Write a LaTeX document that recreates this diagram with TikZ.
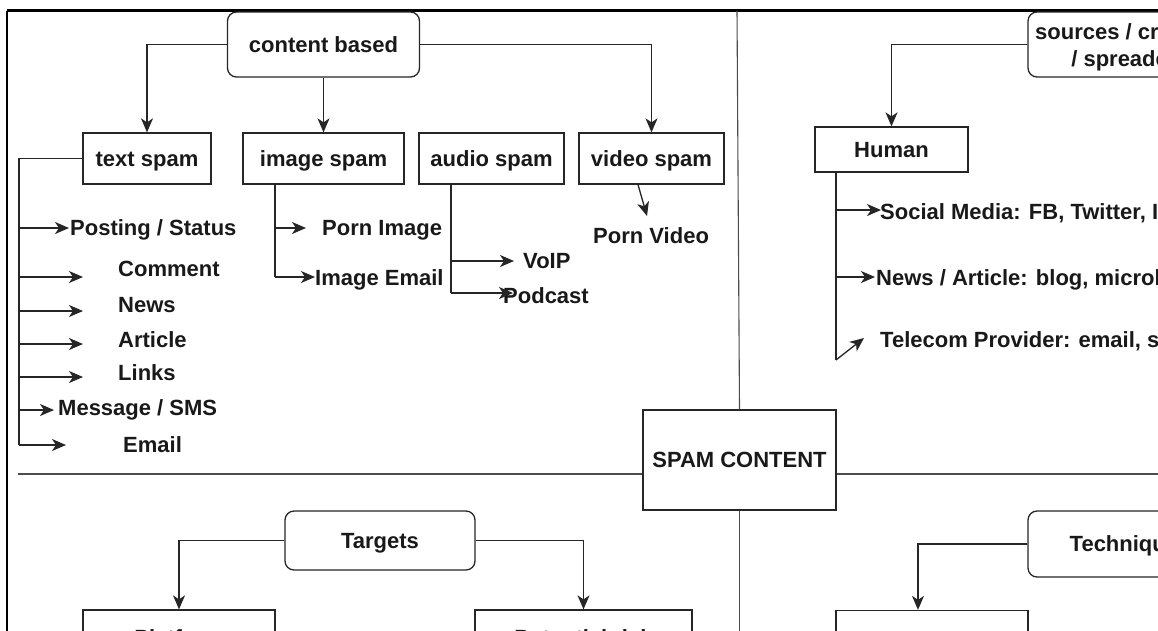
\documentclass[tikz,border=0pt]{standalone}
\usepackage{fontspec}
\setmainfont{Liberation Sans}
\usetikzlibrary{arrows.meta}
\begin{document}
\begin{tikzpicture}[x=1pt,y=-1pt,
  every node/.style={font=\fontsize{22}{26}\selectfont\bfseries, text=black!90},
  ln/.style={draw=black!85, line width=1.3pt},
  arr/.style={ln, -{Stealth[length=14pt,width=12pt,inset=4pt]}},
  divider/.style={draw=black!70, line width=1.1pt},
  boxbase/.style={draw=black!85, line width=1.3pt, inner sep=0pt, align=center},
  box/.style={boxbase, text height=15.5pt, text depth=0pt},
  rbox/.style={box, rounded corners=9pt},
  lbl/.style={inner sep=0pt, anchor=west, text height=16pt, text depth=4pt}]

\useasboundingbox (0,0) rectangle (1158,630);
\clip (0,0) rectangle (1158,630);
\fill[white] (0,0) rectangle (1158,630);

% outer frame
\draw[line width=2.4pt] (7,10.5) -- (1170,10.5);
\draw[line width=2pt] (7,10.5) -- (7,640);

% centre box and quadrant dividers
\node[box, minimum width=193pt, minimum height=100pt] (spam) at (739.5,460) {SPAM CONTENT};
\coordinate (dtop) at (737,10.5);
\coordinate (dbot) at (739,640);
\coordinate (dleft) at (18,474);
\coordinate (dright) at (1170,474);
\draw[divider] (dtop) -- (spam.north);
\draw[divider] (spam.south) -- (spam.south |- dbot);
\draw[divider] (dleft) -- (dleft -| spam.west);
\draw[divider] (dright -| spam.east) -- (dright);

% ---------- content based ----------
\node[rbox, minimum width=192pt, minimum height=65pt] (cb) at (323.5,44.5) {content based};
\node[box, minimum width=128pt, minimum height=51pt] (ts) at (147,158.5) {text spam};
\node[box, minimum width=161pt, minimum height=51pt] (is) at (323.5,158.5) {image spam};
\node[box, minimum width=145pt, minimum height=51pt] (as) at (491.5,158.5) {audio spam};
\node[box, minimum width=145pt, minimum height=51pt] (vs) at (651.5,158.5) {video spam};

\draw[arr] (cb.west) -| (ts.north);
\draw[arr] (cb.south) -- (is.north);
\draw[arr] (cb.east) -| (vs.north);

% text spam items
\node[lbl] (posting) at (70,229) {Posting / Status};
\node[lbl] (comment) at (118,270) {Comment};
\node[lbl] (news) at (118,306) {News};
\node[lbl] (article) at (118,341) {Article};
\node[lbl] (links) at (118,374) {Links};
\node[lbl] (msg) at (58,409) {Message / SMS};
\node[lbl] (email) at (123,446) {Email};

\coordinate (tsbend) at (19,158.5);
\coordinate (tsend) at (19,445);
\draw[ln] (ts.west) -- (tsbend) -- (tsend);
\coordinate (tpost) at (69,228);
\coordinate (tcomm) at (83,277);
\coordinate (tnews) at (83,311);
\coordinate (tart) at (83,344);
\coordinate (tlink) at (83,377);
\coordinate (tmsg) at (54,410);
\coordinate (tmail) at (66,445);
\foreach \t in {tpost,tcomm,tnews,tart,tlink,tmsg,tmail}
  \draw[arr] (tsbend |- \t) -- (\t);

% image spam items
\node[lbl] (pimg) at (322,229) {Porn Image};
\node[lbl] (imail) at (315,279) {Image Email};
\coordinate (istop) at (275,184);
\coordinate (isbot) at (275,277);
\coordinate (tpimg) at (306,228);
\coordinate (timail) at (315,277);
\draw[ln] (istop) -- (isbot);
\draw[arr] (istop |- tpimg) -- (tpimg);
\draw[arr] (isbot) -- (timail);

% audio spam items
\node[lbl] (voip) at (523,262) {VoIP};
\node[lbl] (podcast) at (503,297) {Podcast};
\coordinate (astop) at (451,184);
\coordinate (asbot) at (451,293);
\coordinate (tvoip) at (514,261);
\coordinate (tpod) at (513,293);
\draw[ln] (astop) -- (asbot);
\draw[arr] (astop |- tvoip) -- (tvoip);
\draw[arr] (asbot) -- (tpod);

% video spam item
\node[lbl] (pvid) at (593,237) {Porn Video};
\coordinate (tpvid) at (647,216);
\draw[arr] ([xshift=-13.5pt]vs.south) -- (tpvid);

% ---------- sources / creators / spreaders ----------
\node[boxbase, rounded corners=9pt, minimum width=204pt, minimum height=65pt] (src) at (1130,44.5) {};
\node[align=center, inner sep=0pt] at (1130,47.5) {sources / creators\\[1pt]/ spreaders};
\node[box, minimum width=153pt, minimum height=45pt] (human) at (891.5,149.5) {Human};
\draw[arr] (src.west) -| (human.north);

\node[lbl] (social) at (880,213) {Social Media: FB, Twitter, Instagram};
\node[lbl] (newsart) at (876,279) {News / Article: blog, microblog};
\node[lbl] (telecom) at (880,341) {Telecom Provider: email, sms};
\coordinate (htop) at (836,172);
\coordinate (hbot) at (836,360);
\coordinate (tsoc) at (881,210);
\coordinate (tnew) at (875,277);
\coordinate (ttel) at (864,338);
\draw[ln] (htop) -- (hbot);
\draw[arr] (htop |- tsoc) -- (tsoc);
\draw[arr] (htop |- tnew) -- (tnew);
\draw[arr] (hbot) -- (ttel);

% ---------- targets ----------
\node[rbox, minimum width=190pt, minimum height=59pt] (tg) at (380,540.5) {Targets};
\node[box, minimum width=192pt, minimum height=52pt] (plat) at (179,636) {};
\node[anchor=base] at (179,645) {Platform};
\node[box, minimum width=217pt, minimum height=52pt] (pot) at (583.5,636) {};
\node[anchor=base] at (583.5,645) {Potential risk};
\draw[arr] (tg.west) -| (plat.north);
\draw[arr] (tg.east) -| (pot.north);

% ---------- techniques ----------
\node[rbox, minimum width=204pt, minimum height=66pt] (tq) at (1130,544) {Techniques};
\node[box, minimum width=192pt, minimum height=52pt] (tqb) at (932,636.5) {};
\draw[arr] (tq.west) -| ([xshift=-14pt]tqb.north);

\end{tikzpicture}
\end{document}
